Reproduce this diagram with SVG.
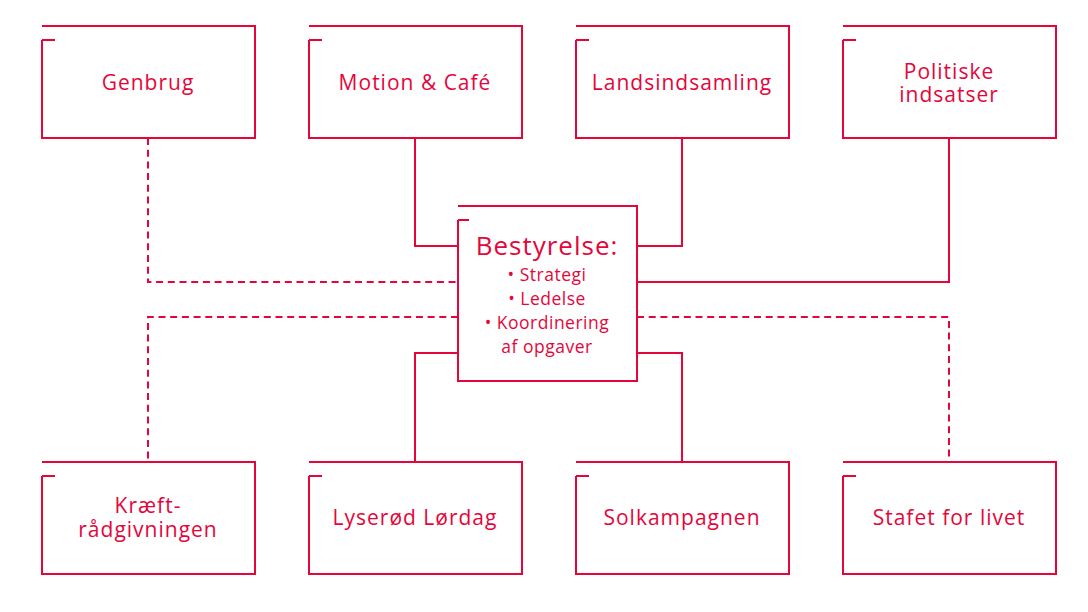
<svg xmlns="http://www.w3.org/2000/svg" width="1088" height="612" viewBox="0 0 1088 612">
<style>
.b{fill:none;stroke:#e4063b;stroke-width:2}
.c{fill:none;stroke:#e4063b;stroke-width:2}
.d{stroke-dasharray:7 4.7}
text{font-family:"Open Sans","Noto Sans",sans-serif;fill:#e4063b;text-anchor:middle;font-size:21px;letter-spacing:1px}
.t{font-size:26px;letter-spacing:1px}
.s{font-size:17.5px;letter-spacing:0.5px}
</style>
<rect width="1088" height="612" fill="#fff"/>
<defs>
<path id="fr" d="M0,0H213V112H0V14M0,14H13"/>
</defs>
<g id="connectors">
<path class="c" d="M415,138V246H458"/>
<path class="c" d="M682,138V246H637"/>
<path class="c d" d="M148,138V282H458"/>
<path class="c" d="M949,138V282H637"/>
<path class="c d" d="M458,317H148V462"/>
<path class="c d" d="M637,317H949V462"/>
<path class="c" d="M458,353H415V462"/>
<path class="c" d="M637,353H682V462"/>
</g>
<g id="genbrug"><use href="#fr" x="42" y="26" class="b"/><text x="148" y="90">Genbrug</text></g>
<g id="motion"><use href="#fr" x="309" y="26" class="b"/><text x="415" y="90">Motion &amp; Café</text></g>
<g id="landsindsamling"><use href="#fr" x="576" y="26" class="b"/><text x="682" y="90">Landsindsamling</text></g>
<g id="politiske"><use href="#fr" x="843" y="26" class="b"/><text x="949" y="79">Politiske<tspan x="949" y="102">indsatser</tspan></text></g>
<g id="bestyrelse">
<path class="b" d="M458,206H637V381H458V220M458,220H469"/>
<text class="t" x="547" y="255">Bestyrelse:</text>
<text class="s" x="547" y="281">• Strategi<tspan x="547" y="305">• Ledelse</tspan><tspan x="547" y="329">• Koordinering</tspan><tspan x="547" y="353">af opgaver</tspan></text>
</g>
<g id="kraeft"><use href="#fr" x="42" y="462" class="b"/><text x="148" y="513">Kræft-<tspan x="148" y="537">rådgivningen</tspan></text></g>
<g id="lyserod"><use href="#fr" x="309" y="462" class="b"/><text x="415" y="525">Lyserød Lørdag</text></g>
<g id="solkampagnen"><use href="#fr" x="576" y="462" class="b"/><text x="682" y="525">Solkampagnen</text></g>
<g id="stafet"><use href="#fr" x="843" y="462" class="b"/><text x="949" y="525">Stafet for livet</text></g>
</svg>
